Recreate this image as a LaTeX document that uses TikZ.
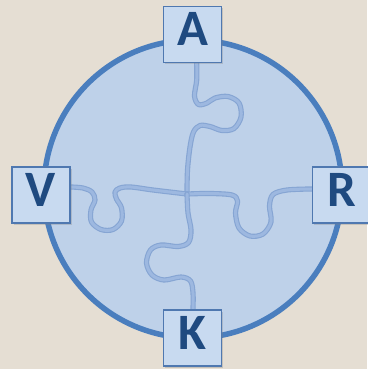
\documentclass[tikz,border=0pt]{standalone}
\usepackage{fontspec}
\setmainfont{Carlito}
\usetikzlibrary{shadows,backgrounds}
\definecolor{bg}{HTML}{E5DED3}
\definecolor{ringfill}{HTML}{BED1E9}
\definecolor{ringdraw}{HTML}{4A7EBE}
\definecolor{boxfill}{HTML}{C8DAF0}
\definecolor{boxdraw}{HTML}{4F78B0}
\definecolor{letter}{HTML}{1F4A80}
\definecolor{seamdark}{HTML}{86A5D3}
\definecolor{seamlight}{HTML}{9DB8E0}
\begin{document}
\begin{tikzpicture}[x=1pt,y=-1pt,
  box/.style={draw=boxdraw,line width=1.8pt,fill=boxfill,minimum width=58pt,minimum height=56pt,
    inner sep=0pt,text=letter,font=\bfseries\fontsize{51}{51}\selectfont,
    text height=32pt,text depth=10pt,
    drop shadow={shadow xshift=1.5pt,shadow yshift=-1.5pt,opacity=0.3}},
  ring/.style={draw=ringdraw,line width=5.5pt,fill=ringfill},
  seam/.style={draw=seamdark,line width=5.2pt,line cap=round,line join=round,
    postaction={draw=seamlight,line width=3pt,line cap=round,line join=round}}]
\useasboundingbox (0,0) rectangle (367,369);
\node[box] (A) at (192.5,34.5) {A};
\node[box] (V) at (41,195) {V};
\node[box] (R) at (341.5,195) {R};
\node[box] (K) at (192.5,338) {K};
\coordinate (C) at (187,194);
\begin{pgfonlayer}{background}
\fill[bg] (0,0) rectangle (367,369);
\draw[ring] (193,189) circle[radius=149];
\draw[seam] plot[smooth,tension=0.55] coordinates {([xshift=4.2pt]A.south) (196.7,80) (194.5,96) (198.5,104.5) (207,103) (215,98) (228,96.5) (239,103) (241,117) (234,128.5) (222,130.5) (210,126.5) (200,125.5) (193.5,132) (190,147) (187.5,170) (C)};
\draw[seam] plot[smooth,tension=0.55] coordinates {([yshift=8pt]V.east) (83,188) (92,192) (95,200) (91,210) (91.5,222) (101,229.5) (113,229.5) (121.5,221) (121.5,208) (116.5,199) (115,192) (120,188) (131,187) (153,190) (C)};
\draw[seam] plot[smooth,tension=0.55] coordinates {(C) (210,193.5) (232,195) (237.5,201) (235.5,213) (239,228) (250,236) (263,234) (271,222) (269.5,206) (273,194.5) (287,190) ([yshift=6pt]R.west)};
\draw[seam] plot[smooth,tension=0.55] coordinates {(C) (188,213) (191,230) (188.5,242.5) (178,246.5) (161,245) (150.5,250) (146.5,263) (152,275) (164,280) (181,277) (190.5,281) (193,293) ([xshift=0.5pt]K.north)};
\end{pgfonlayer}
\end{tikzpicture}
\end{document}
